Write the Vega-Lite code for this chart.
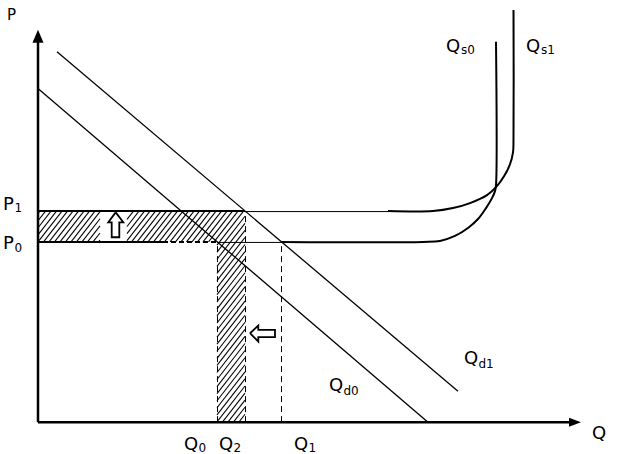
{
  "$schema": "https://vega.github.io/schema/vega-lite/v6.json",
  "width": 619,
  "height": 454,
  "padding": 0,
  "autosize": {"type": "fit", "contains": "padding"},
  "background": "white",
  "config": {"view": {"stroke": null}},
  "datasets": {
    "hatch": [
      {"q":0,"p":209.4,"q2":2,"p2":212},{"q":0,"p":202.3,"q2":7.5,"p2":212},{"q":0,"p":195.2,"q2":13,"p2":212},{"q":0,"p":188.1,"q2":18.5,"p2":212},
      {"q":0,"p":181,"q2":24,"p2":212},{"q":5.5,"p":181,"q2":29.5,"p2":212},{"q":11,"p":181,"q2":35,"p2":212},{"q":16.5,"p":181,"q2":40.5,"p2":212},
      {"q":22,"p":181,"q2":46,"p2":212},{"q":27.5,"p":181,"q2":51.5,"p2":212},{"q":33,"p":181,"q2":57,"p2":212},{"q":38.5,"p":181,"q2":62,"p2":211.4},
      {"q":44,"p":181,"q2":62,"p2":204.3},{"q":49.5,"p":181,"q2":62,"p2":197.1},{"q":55,"p":181,"q2":62,"p2":190},{"q":60.5,"p":181,"q2":62,"p2":182.9},
      {"q":89,"p":203.6,"q2":95.5,"p2":212},{"q":89,"p":196.5,"q2":101,"p2":212},{"q":89,"p":189.4,"q2":106.5,"p2":212},{"q":89,"p":182.3,"q2":112,"p2":212},
      {"q":93.5,"p":181,"q2":117.5,"p2":212},{"q":99,"p":181,"q2":123,"p2":212},{"q":104.5,"p":181,"q2":128.5,"p2":212},{"q":110,"p":181,"q2":134,"p2":212},
      {"q":115.5,"p":181,"q2":139.5,"p2":212},{"q":121,"p":181,"q2":145,"p2":212},{"q":126.5,"p":181,"q2":150.5,"p2":212},{"q":132,"p":181,"q2":156,"p2":212},
      {"q":137.5,"p":181,"q2":161.5,"p2":212},{"q":143,"p":181,"q2":167,"p2":212},{"q":148.5,"p":181,"q2":172.5,"p2":212},{"q":154,"p":181,"q2":178,"p2":212},
      {"q":159.5,"p":181,"q2":183.5,"p2":212},{"q":165,"p":181,"q2":189,"p2":212},{"q":170.5,"p":181,"q2":194.5,"p2":212},{"q":176,"p":181,"q2":200,"p2":212},
      {"q":181.5,"p":181,"q2":205.5,"p2":212},{"q":187,"p":181,"q2":207,"p2":206.8},{"q":192.5,"p":181,"q2":207,"p2":199.7},{"q":198,"p":181,"q2":207,"p2":192.6},
      {"q":203.5,"p":181,"q2":207,"p2":185.5},
      {"q":179,"p":177.8,"q2":181.5,"p2":181},{"q":179,"p":170.7,"q2":187,"p2":181},{"q":179,"p":163.6,"q2":192.5,"p2":181},{"q":179,"p":156.5,"q2":198,"p2":181},
      {"q":179,"p":149.4,"q2":203.5,"p2":181},{"q":179,"p":142.2,"q2":207,"p2":178.4},{"q":179,"p":135.1,"q2":207,"p2":171.3},{"q":179,"p":128,"q2":207,"p2":164.2},
      {"q":179,"p":120.9,"q2":207,"p2":157.1},{"q":179,"p":113.8,"q2":207,"p2":150},{"q":179,"p":106.7,"q2":207,"p2":142.9},{"q":179,"p":99.6,"q2":207,"p2":135.8},
      {"q":179,"p":92.5,"q2":207,"p2":128.7},{"q":179,"p":85.4,"q2":207,"p2":121.6},{"q":179,"p":78.3,"q2":207,"p2":114.5},{"q":179,"p":71.2,"q2":207,"p2":107.4},
      {"q":179,"p":64.1,"q2":207,"p2":100.3},{"q":179,"p":57,"q2":207,"p2":93.2},{"q":179,"p":49.9,"q2":207,"p2":86.1},{"q":179,"p":42.8,"q2":207,"p2":79},
      {"q":179,"p":35.7,"q2":207,"p2":71.9},{"q":179,"p":28.6,"q2":207,"p2":64.7},{"q":179,"p":21.5,"q2":207,"p2":57.6},{"q":179,"p":14.4,"q2":207,"p2":50.5},
      {"q":179,"p":7.3,"q2":207,"p2":43.4},{"q":179,"p":0.2,"q2":207,"p2":36.3},{"q":184.4,"p":0,"q2":207,"p2":29.2},{"q":189.9,"p":0,"q2":207,"p2":22.1},
      {"q":195.4,"p":0,"q2":207,"p2":15},{"q":200.9,"p":0,"q2":207,"p2":7.9}
    ],
    "axes": [
      {"q":0,"p":0,"q2":0,"p2":382},
      {"q":0,"p":0,"q2":531,"p2":0}
    ],
    "thick": [
      {"q":0,"p":212,"q2":207,"p2":212},
      {"q":0,"p":181,"q2":125,"p2":181}
    ],
    "thickDash": [
      {"q":125,"p":181,"q2":179,"p2":181}
    ],
    "thin": [
      {"q":207,"p":211.5,"q2":352,"p2":211.5},
      {"q":179,"p":180.5,"q2":244,"p2":180.5}
    ],
    "dashed": [
      {"q":179.5,"p":0,"q2":179.5,"p2":181},
      {"q":207.5,"p":0,"q2":207.5,"p2":212},
      {"q":243.5,"p":0,"q2":243.5,"p2":181}
    ],
    "supply": [
      {"curve":"Qs0","i":0,"q":243,"p":181},{"curve":"Qs0","i":1,"q":385,"p":181},{"curve":"Qs0","i":2,"q":402,"p":182},
      {"curve":"Qs0","i":3,"q":417,"p":187},{"curve":"Qs0","i":4,"q":430,"p":195},{"curve":"Qs0","i":5,"q":440,"p":204},
      {"curve":"Qs0","i":6,"q":448,"p":215},{"curve":"Qs0","i":7,"q":454,"p":225},{"curve":"Qs0","i":8,"q":457,"p":232},
      {"curve":"Qs0","i":9,"q":458,"p":238},{"curve":"Qs0","i":10,"q":458,"p":382},
      {"curve":"Qs1","i":0,"q":350,"p":212},{"curve":"Qs1","i":1,"q":395,"p":212},{"curve":"Qs1","i":2,"q":415,"p":215},
      {"curve":"Qs1","i":3,"q":432,"p":220},{"curve":"Qs1","i":4,"q":449,"p":228},{"curve":"Qs1","i":5,"q":458,"p":236},
      {"curve":"Qs1","i":6,"q":466,"p":247},{"curve":"Qs1","i":7,"q":472,"p":259},{"curve":"Qs1","i":8,"q":475,"p":271},
      {"curve":"Qs1","i":9,"q":475.5,"p":284},{"curve":"Qs1","i":10,"q":475.5,"p":414}
    ],
    "demand": [
      {"curve":"Qd0","i":0,"q":0,"p":335},{"curve":"Qd0","i":1,"q":390,"p":0},
      {"curve":"Qd1","i":0,"q":19,"p":372},{"curve":"Qd1","i":1,"q":420,"p":31}
    ],
    "blocks": [
      {"arrow":"up","i":0,"q":77.7,"p":210.7},{"arrow":"up","i":1,"q":85.3,"p":200.7},{"arrow":"up","i":2,"q":81.3,"p":200.7},
      {"arrow":"up","i":3,"q":81.3,"p":185.7},{"arrow":"up","i":4,"q":73.7,"p":185.7},{"arrow":"up","i":5,"q":73.7,"p":200.7},
      {"arrow":"up","i":6,"q":70.3,"p":200.7},{"arrow":"up","i":7,"q":77.7,"p":210.7},
      {"arrow":"left","i":0,"q":212,"p":89.3},{"arrow":"left","i":1,"q":220.3,"p":97},{"arrow":"left","i":2,"q":220.3,"p":92.7},
      {"arrow":"left","i":3,"q":237,"p":92.7},{"arrow":"left","i":4,"q":237,"p":85.3},{"arrow":"left","i":5,"q":220.3,"p":85.3},
      {"arrow":"left","i":6,"q":220.3,"p":81},{"arrow":"left","i":7,"q":212,"p":89.3}
    ],
    "headUp": [{"q":0,"p":387.5}],
    "headRight": [{"q":537,"p":0}],
    "axisTitle": [{"t":"P","q":-31,"p":404}],
    "mainLabels": [
      {"t":"P","q":-35,"p":213},
      {"t":"P","q":-35,"p":174},
      {"t":"Q","q":146,"p":-28},
      {"t":"Q","q":181,"p":-28},
      {"t":"Q","q":256,"p":-28},
      {"t":"Q","q":554,"p":-17},
      {"t":"Q","q":408,"p":372},
      {"t":"Q","q":488,"p":372},
      {"t":"Q","q":426,"p":58},
      {"t":"Q","q":291,"p":31}
    ],
    "subLabels": [
      {"t":"1","q":-23.5,"p":211.5},
      {"t":"0","q":-23.5,"p":171},
      {"t":"0","q":160.5,"p":-30},
      {"t":"2","q":195.5,"p":-30},
      {"t":"1","q":270.5,"p":-30},
      {"t":"s0","q":423,"p":370},
      {"t":"s1","q":503,"p":370},
      {"t":"d1","q":440.5,"p":54},
      {"t":"d0","q":305.5,"p":27}
    ]
  },
  "encoding": {
    "x": {"field":"q","type":"quantitative","scale":{"domain":[-38,581],"nice":false,"zero":false},"axis":null},
    "y": {"field":"p","type":"quantitative","scale":{"domain":[-30,424],"nice":false,"zero":false},"axis":null}
  },
  "layer": [
    {"data":{"name":"hatch"},"mark":{"type":"rule","stroke":"black","strokeWidth":1.05},
     "encoding":{"x2":{"field":"q2"},"y2":{"field":"p2"}}},
    {"data":{"name":"dashed"},"mark":{"type":"rule","stroke":"black","strokeWidth":1,"strokeDash":[6,4]},
     "encoding":{"x2":{"field":"q2"},"y2":{"field":"p2"}}},
    {"data":{"name":"thin"},"mark":{"type":"rule","stroke":"black","strokeWidth":1},
     "encoding":{"x2":{"field":"q2"},"y2":{"field":"p2"}}},
    {"data":{"name":"thick"},"mark":{"type":"rule","stroke":"black","strokeWidth":2},
     "encoding":{"x2":{"field":"q2"},"y2":{"field":"p2"}}},
    {"data":{"name":"thickDash"},"mark":{"type":"rule","stroke":"black","strokeWidth":2,"strokeDash":[5,3]},
     "encoding":{"x2":{"field":"q2"},"y2":{"field":"p2"}}},
    {"data":{"name":"demand"},"mark":{"type":"line","stroke":"black","strokeWidth":1.3},
     "encoding":{"detail":{"field":"curve"},"order":{"field":"i"}}},
    {"data":{"name":"supply"},"mark":{"type":"line","stroke":"black","strokeWidth":2,"interpolate":"catmull-rom"},
     "encoding":{"detail":{"field":"curve"},"order":{"field":"i"}}},
    {"data":{"name":"axes"},"mark":{"type":"rule","stroke":"black","strokeWidth":2.5},
     "encoding":{"x2":{"field":"q2"},"y2":{"field":"p2"}}},
    {"data":{"name":"headUp"},"mark":{"type":"point","shape":"M0,-1L0.85,1L-0.85,1Z","size":169,"filled":true,"fill":"black","opacity":1,"strokeWidth":0}},
    {"data":{"name":"headRight"},"mark":{"type":"point","shape":"M1,0L-1,0.75L-1,-0.75Z","size":144,"filled":true,"fill":"black","opacity":1,"strokeWidth":0}},
    {"data":{"name":"blocks"},"mark":{"type":"line","stroke":"black","strokeWidth":1.8},
     "encoding":{"detail":{"field":"arrow"},"order":{"field":"i"}}},
    {"data":{"name":"axisTitle"},"mark":{"type":"text","font":"DejaVu Sans","fontSize":15,"align":"left","baseline":"alphabetic","color":"black"},
     "encoding":{"text":{"field":"t"}}},
    {"data":{"name":"mainLabels"},"mark":{"type":"text","font":"DejaVu Sans","fontSize":18,"align":"left","baseline":"alphabetic","color":"black"},
     "encoding":{"text":{"field":"t"}}},
    {"data":{"name":"subLabels"},"mark":{"type":"text","font":"DejaVu Sans","fontSize":12,"align":"left","baseline":"alphabetic","color":"black"},
     "encoding":{"text":{"field":"t"}}}
  ]
}
